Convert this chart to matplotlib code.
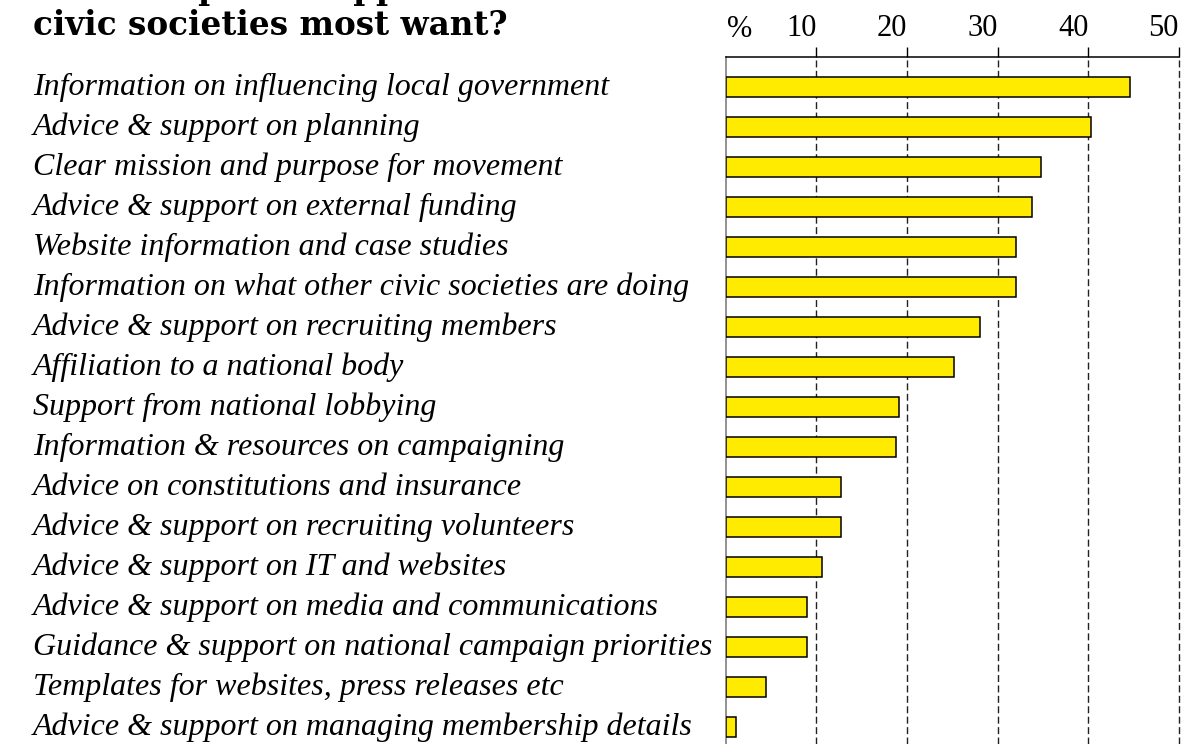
import matplotlib.pyplot as plt
from matplotlib import transforms

# data (percent of respondents)
categories = [
    'Information on influencing local government',
    'Advice & support on planning',
    'Clear mission and purpose for movement',
    'Advice & support on external funding',
    'Website information and case studies',
    'Information on what other civic societies are doing',
    'Advice & support on recruiting members',
    'Affiliation to a national body',
    'Support from national lobbying',
    'Information & resources on campaigning',
    'Advice on constitutions and insurance',
    'Advice & support on recruiting volunteers',
    'Advice & support on IT and websites',
    'Advice & support on media and communications',
    'Guidance & support on national campaign priorities',
    'Templates for websites, press releases etc',
    'Advice & support on managing membership details',
]
values = [44.6, 40.3, 34.8, 33.8, 32.0, 32.0, 28.1, 25.2, 19.1, 18.8,
          12.75, 12.75, 10.65, 9.0, 9.0, 4.5, 1.1]
tick_values = [10, 20, 30, 40, 50]
tick_labels = ['10', '20', '30', '40', '50']
title_lines = ['What help and support do', 'civic societies most want?']

W, H = 1201, 744
fig = plt.figure(figsize=(W / 100, H / 100), dpi=100)
fig.patch.set_facecolor('white')

# axes placed in pixels
ax_left, ax_right, ax_top = 725.7, 1179.0, 56.7
ax = fig.add_axes([ax_left / W, 0, (ax_right - ax_left) / W, (H - ax_top) / H])

pos = list(range(len(values)))
ax.barh(pos, values, height=0.5, color='#ffeb00', edgecolor='black', linewidth=1.1, zorder=3)

ax.set_xlim(0, 50)
ax.set_ylim(len(values) - 1 + 17.3 / 40, -0.75)

# grid + top axis
ax.set_xticks(tick_values)
ax.set_xticklabels(tick_labels)
ax.xaxis.tick_top()
ax.tick_params(axis='x', direction='out', length=7.2, width=1.0, pad=2.5,
               labelsize=22, colors='black')
for lab in ax.get_xticklabels():
    lab.set_horizontalalignment('right')
    lab.set_fontfamily('Liberation Serif')
ax.set_yticks([])
ax.grid(axis='x', color='#222222', linestyle=(0, (5, 2.5)), linewidth=1.0, zorder=1)
for gl in ax.get_xgridlines():
    gl.set_clip_on(False)

for side in ['right', 'bottom']:
    ax.spines[side].set_visible(False)
ax.spines['top'].set_linewidth(1.1)
ax.spines['left'].set_color('#808080')
ax.spines['left'].set_linewidth(1.2)

ax.annotate('%', xy=(0, 1), xycoords=('data', 'axes fraction'),
            xytext=(1, 9.5), textcoords='offset points',
            ha='left', va='bottom', fontsize=22, family='Liberation Serif')

# category labels on the left, in figure x / data y
trans = transforms.blended_transform_factory(fig.transFigure, ax.transData)
for i, name in enumerate(categories):
    ax.text(33 / W, i + 8.5 / 40, name, transform=trans, ha='left', va='baseline',
            fontsize=23, style='italic', family='Liberation Serif', clip_on=False)

# title: first line sits mostly above the top edge, as in the reference
fig.text(33 / W, 1 + 1 / H, title_lines[0], ha='left', va='baseline',
         fontsize=23.5, fontweight='bold', family='DejaVu Serif')
fig.text(33 / W, 1 - 35 / H, title_lines[1], ha='left', va='baseline',
         fontsize=23.5, fontweight='bold', family='DejaVu Serif')

fig.savefig('out.png', dpi=100)
